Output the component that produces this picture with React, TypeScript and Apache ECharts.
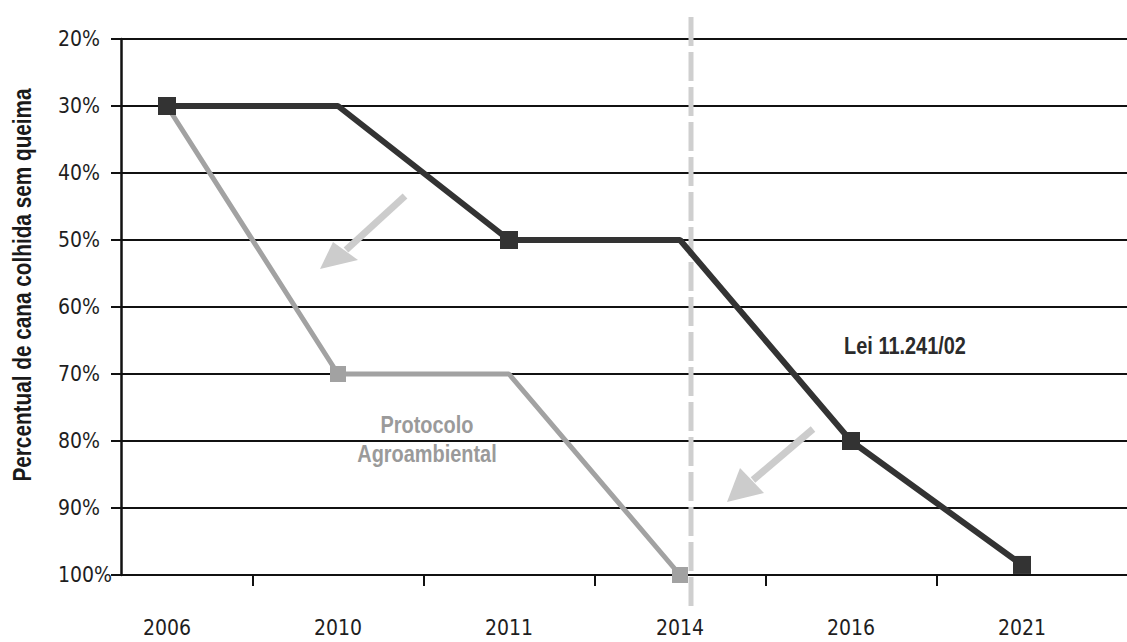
import React, { useEffect, useRef } from "react";
import * as echarts from "echarts";

// Harvest years on the horizontal axis
const years = ["2006", "2010", "2011", "2014", "2016", "2021"];

// Lei 11.241/02 schedule (share of cane harvested without burning, %)
const leiValues = [30, 30, 50, 50, 80, 98.5];
const leiMarked = [true, false, true, false, true, true];

// Protocolo Agroambiental schedule (%)
const protocoloValues = [30, 70, 70, 100];
const protocoloMarked = [true, true, false, true];

// Vertical axis ticks (%)
const yTicks = [20, 30, 40, 50, 60, 70, 80, 90, 100];

const AXIS_FONT = "'DejaVu Sans Condensed', 'Liberation Sans', sans-serif";
const TITLE_FONT = "'Liberation Sans', Arial, sans-serif";
const DARK = "#333333";
const LIGHT = "#a2a2a2";
const ARROW = "#cccccc";
const SQUEEZE = 0.83;

const toPoints = (values: number[], marked: boolean[]) =>
  values.map((v, i) => ({
    value: [i, v],
    symbol: marked[i] ? "rect" : "none",
  }));

const arrow = (tail: number[], base: number[], c1: number[], tip: number[], c2: number[]) => [
  {
    type: "line",
    z: 1,
    shape: { x1: tail[0], y1: tail[1], x2: base[0], y2: base[1] },
    style: { stroke: ARROW, lineWidth: 7 },
  },
  {
    type: "polygon",
    z: 1,
    shape: { points: [c1, tip, c2] },
    style: { fill: ARROW },
  },
];

const boldText = (text: string, x: number, y: number, fill: string, extra: any = {}) => ({
  type: "text",
  z: 5,
  x,
  y,
  scaleX: SQUEEZE,
  ...extra,
  style: {
    text,
    fontFamily: TITLE_FONT,
    fontWeight: "bold",
    fontSize: 24,
    fill,
    textAlign: "center",
    textVerticalAlign: "middle",
    ...(extra.style || {}),
  },
});

export default function App() {
  const ref = useRef<HTMLDivElement>(null);

  useEffect(() => {
    if (!ref.current) return;
    const chart = echarts.init(ref.current, null, { renderer: "svg" });

    const option = {
      animation: false,
      backgroundColor: "#ffffff",
      grid: { left: 121, right: 0, top: 39, bottom: 67 },
      xAxis: {
        type: "value",
        min: -0.269,
        max: 5.614,
        splitLine: { show: false },
        axisLine: { show: true, onZero: false, lineStyle: { color: "#111", width: 2 } },
        axisTick: {
          show: true,
          customValues: [0.5, 1.5, 2.5, 3.5, 4.5],
          length: 11,
          lineStyle: { color: "#111", width: 2 },
        },
        axisLabel: {
          customValues: years.map((_, i) => i),
          formatter: (v: number) => years[Math.round(v)],
          margin: 53,
          verticalAlign: "middle",
          fontFamily: AXIS_FONT,
          fontSize: 21,
          color: "#1e1e1e",
        },
      },
      yAxis: {
        type: "value",
        inverse: true,
        min: yTicks[0],
        max: yTicks[yTicks.length - 1],
        interval: 10,
        axisLine: { show: true, onZero: false, lineStyle: { color: "#111", width: 2.5 } },
        axisTick: { show: true, length: 10, lineStyle: { color: "#111", width: 2 } },
        splitLine: { show: true, lineStyle: { color: "#111", width: 2 } },
        axisLabel: {
          formatter: "{value}%",
          align: "left",
          margin: 63,
          fontFamily: AXIS_FONT,
          fontSize: 21,
          color: "#1e1e1e",
        },
      },
      series: [
        {
          name: "Protocolo Agroambiental",
          type: "line",
          z: 3,
          clip: false,
          data: toPoints(protocoloValues, protocoloMarked),
          symbolSize: 16,
          lineStyle: { color: LIGHT, width: 5 },
          itemStyle: { color: LIGHT },
        },
        {
          name: "Lei 11.241/02",
          type: "line",
          z: 4,
          clip: false,
          data: toPoints(leiValues, leiMarked),
          symbolSize: 18,
          lineStyle: { color: DARK, width: 6 },
          itemStyle: { color: DARK },
        },
      ],
      graphic: [
        {
          type: "line",
          z: 1,
          shape: { x1: 691, y1: 17, x2: 691, y2: 606 },
          style: { stroke: "#cfcfcf", lineWidth: 5, lineDash: [29, 6] },
        },
        ...arrow([405, 196], [346, 250], [333, 242], [320, 269], [358, 260]),
        ...arrow([813, 429], [753, 480], [740, 468], [727, 502], [764, 493]),
        boldText("Lei 11.241/02", 905, 346, "#2b2b2b"),
        boldText("Protocolo\nAgroambiental", 427, 439, "#9a9a9a", { style: { lineHeight: 29 } }),
        boldText("Percentual de cana colhida sem queima", 22, 285, "#1a1a1a", {
          rotation: Math.PI / 2,
          style: { fontSize: 25 },
        }),
      ],
    };

    chart.setOption(option as any);
    return () => chart.dispose();
  }, []);

  return (
    <div
      ref={ref}
      style={{ position: "fixed", left: 0, top: 0, width: 1127, height: 642, background: "#fff" }}
    />
  );
}
